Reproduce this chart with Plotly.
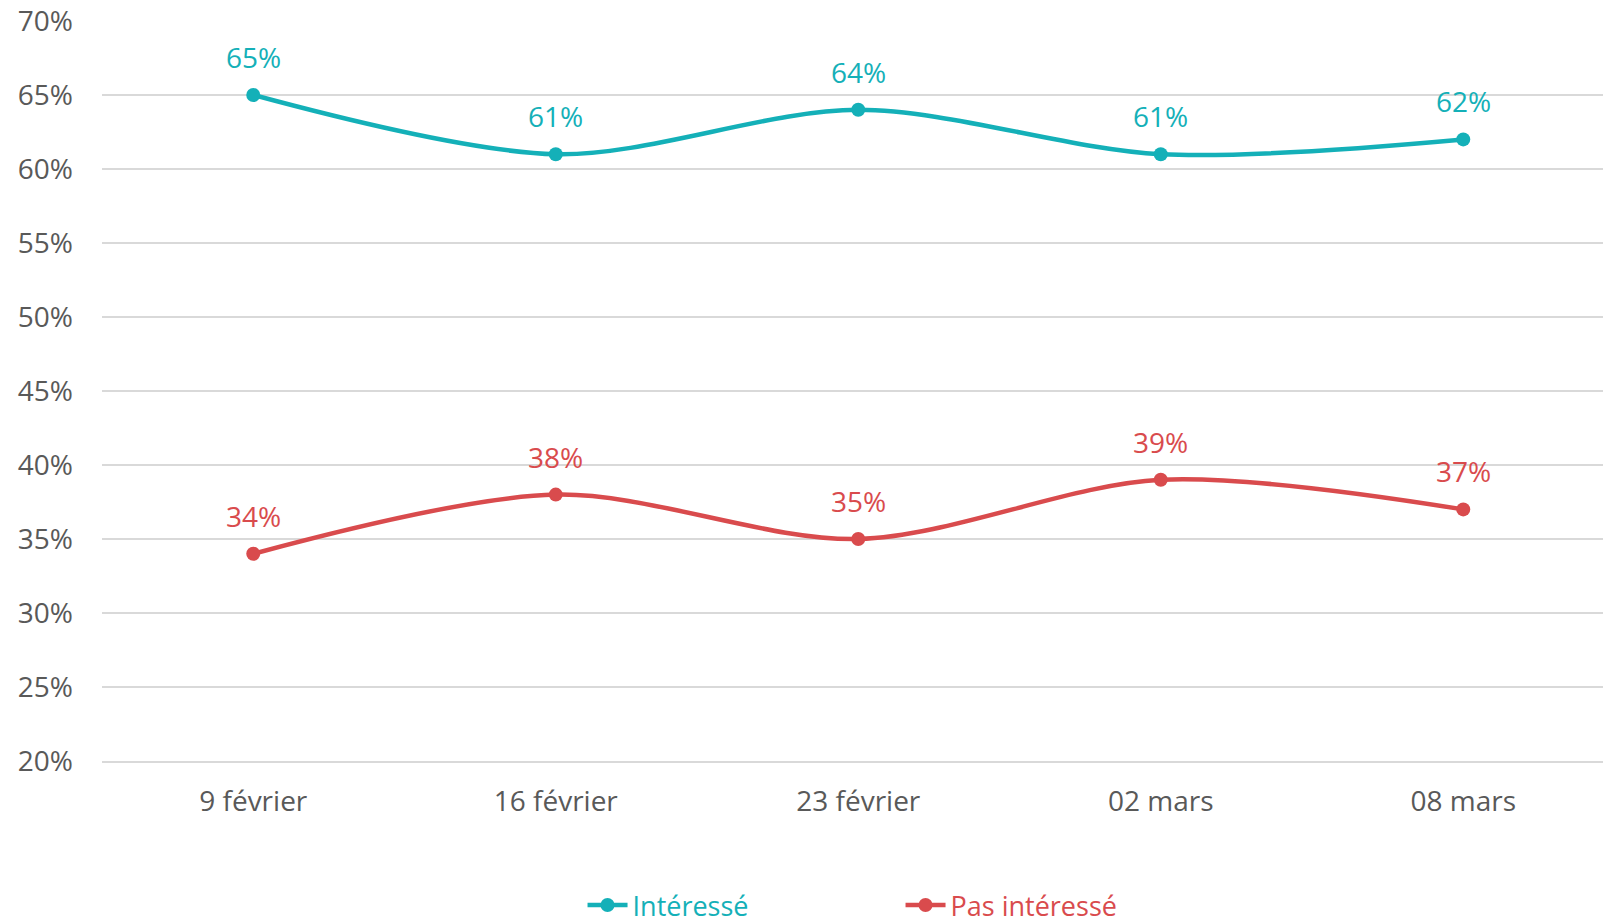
import plotly.graph_objects as go

# Survey waves and shares (fractions)
dates = ["9 février", "16 février", "23 février", "02 mars", "08 mars"]
interesse = [0.65, 0.61, 0.64, 0.61, 0.62]
pas_interesse = [0.34, 0.38, 0.35, 0.39, 0.37]

TEAL = "#14B0B8"
RED = "#D94B4D"
GREY_TEXT = "#595959"
GRID = "#D9D9D9"
FONT = "Open Sans"
FS = 28

fig = go.Figure()

for name, vals, color in [("Intéressé", interesse, TEAL),
                          ("Pas intéressé", pas_interesse, RED)]:
    fig.add_trace(go.Scatter(
        x=dates, y=vals,
        mode="lines+markers",
        name=f"<span style='color:{color}'>{name}</span>",
        line=dict(color=color, width=4.5, shape="spline", smoothing=0.9),
        marker=dict(color=color, size=14),
        cliponaxis=False,
        hoverinfo="skip",
    ))
    # value labels above each point
    for d, v in zip(dates, vals):
        fig.add_annotation(
            x=d, y=v, text=f"{round(v * 100)}%",
            showarrow=False, yshift=38, yanchor="middle",
            font=dict(family=FONT, size=FS, color=color),
        )

fig.update_layout(
    width=1603, height=923,
    margin=dict(l=102, r=0, t=21, b=162, autoexpand=False),
    paper_bgcolor="white", plot_bgcolor="white",
    font=dict(family=FONT, size=FS, color=GREY_TEXT),
    showlegend=True,
    legend=dict(
        orientation="h", x=0.532, xanchor="center",
        yref="container", y=0.019, yanchor="middle",
        font=dict(family=FONT, size=27),
        entrywidth=263, itemwidth=40,
        bgcolor="rgba(0,0,0,0)",
    ),
)

fig.update_xaxes(
    type="category", range=[-0.5, 4.462],
    showgrid=False, zeroline=False,
    showline=True, linecolor=GRID, linewidth=2,
    ticks="", ticklabelstandoff=14,
    tickfont=dict(family=FONT, size=FS, color=GREY_TEXT),
)
fig.update_yaxes(
    range=[0.2, 0.7], dtick=0.05, tick0=0.2, tickformat=".0%",
    showgrid=True, gridcolor=GRID, gridwidth=2,
    showline=False, zeroline=False,
    ticks="", ticklabelstandoff=28,
    tickfont=dict(family=FONT, size=FS, color=GREY_TEXT),
)

fig.write_html("out.html")
